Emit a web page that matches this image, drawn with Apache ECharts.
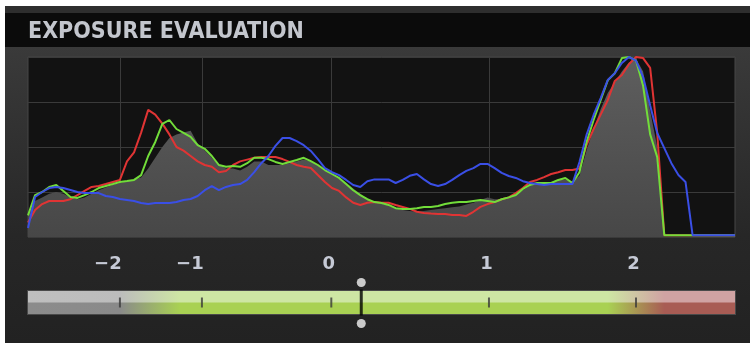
<!DOCTYPE html>
<html>
<head>
<meta charset="utf-8">
<script src="https://cdn.jsdelivr.net/npm/echarts@6/dist/echarts.min.js"></script>
<style>
  html, body { margin: 0; padding: 0; background: #fff; }
  #chart { width: 753px; height: 349px; }
</style>
</head>
<body>
<div id="chart"></div>
<script>
// histogram bins 0..100 across the plot, one value per bin
const red = [8, 15, 18.3, 20, 20, 20, 21, 23.3, 25.6, 27.8, 28.3, 29.4, 30.6, 31.7,
  42, 47, 58, 70.6, 68, 63, 57, 50, 48, 45, 42, 40, 39, 36,
  36.7, 40, 42, 43, 44, 44.4, 44.4, 44.4, 43.3, 41.7, 40, 39, 38.3, 34.4,
  30.6, 27.2, 25.6, 22, 19, 17.8, 19, 19.4, 19, 19, 17.8, 16.7, 15.6, 14,
  13.3, 13, 12.8, 12.8, 12.2, 12.2, 11.7, 14, 16.7, 18.3, 19.4, 21, 22, 24.4,
  27.2, 30.6, 31.7, 33.3, 35, 36, 37.2, 37.2, 38, 51, 60, 68, 76, 86.7,
  90, 96, 100, 99.4, 94, 57.8,
  1, 1, 1, 1, 1, 1, 1, 1, 1, 1, 1]

const green = [12, 23.3, 25, 27.8, 28.9, 25.6, 22.2, 21.7, 23.3, 25, 27.2, 28.3, 29.4, 30.6,
  31.1, 31.7, 34.4, 45, 52.8, 62.8, 65, 60, 57.8, 55.6, 51, 49, 45, 40,
  39, 39.4, 39, 41, 44, 44, 43.3, 41.7, 40.6, 41.7, 42.8, 44, 42.2, 40,
  37.2, 35, 32.8, 29.4, 26, 23.3, 21, 19.4, 18.9, 17.8, 16, 15.6, 15.6, 16,
  16.7, 16.7, 17.2, 18.3, 19, 19.4, 19.4, 20, 20.6, 20, 19.4, 21, 22, 23.3,
  26.7, 28.9, 30, 30, 30, 31.7, 32.8, 30, 36, 52.8, 65, 76, 87, 91,
  99.4, 100, 98, 84, 57, 44.4,
  1, 1, 1, 1, 1, 1, 1, 1, 1, 1, 1]

const blue = [5, 22.2, 25, 27.2, 27.8, 27.2, 26.1, 25, 24.4, 24.4, 24.4, 22.8, 22.2, 21.1,
  20.6, 20, 18.9, 18.3, 18.9, 18.9, 18.9, 19.4, 20.6, 21.1, 22.8, 26, 28.3, 26,
  27.8, 28.9, 29.4, 31.7, 36, 41, 45, 50.6, 55, 55, 53.3, 51, 47.8, 43.3,
  38.3, 36, 34.4, 31.7, 28.9, 27.8, 31, 32, 32, 32, 30, 31.7, 34, 35,
  32, 29.4, 28.3, 29.4, 31.7, 34.4, 36.7, 38.3, 40.6, 40.6, 38.3, 35.6, 33.9, 32.8,
  31, 30, 29.4, 28.9, 29.4, 29.4, 29.4, 29.4, 41.7, 56.7, 67.8, 77.2, 87.2, 91,
  96.7, 100, 98, 89, 73, 57.8, 49.4, 41, 34.4, 30.6,
  1, 1, 1, 1, 1, 1, 1]

const luma = [12, 20, 22, 24, 25, 24, 22, 21, 22, 24, 26, 27.5, 29, 30,
  31, 32, 33, 38, 44, 50, 55, 57, 58, 59, 52, 48, 44, 40,
  38, 38, 37, 39, 42, 42, 40, 40, 40, 41, 42, 43, 42, 40,
  37, 35, 33, 30, 27, 24, 21, 19.5, 18.5, 17.5, 16, 15,
  14.5, 14, 14.5, 15, 15.5, 16, 16.5, 17, 18, 19, 20.5, 22, 21, 21,
  22, 23.5, 26, 28.5, 29.5, 30, 30.5, 31.5, 32, 31, 34, 48, 60, 71,
  80, 86, 92, 97, 99, 92, 70, 50,
  0, 0, 0, 0, 0, 0, 0, 0, 0, 0, 0]

// EV stops and where they sit on the bin axis
const evTickLabels = ['−2', '−1', '0', '1', '2']
const evTickLevels = [13.0, 24.6, 42.9, 65.2, 86.0]
const sliderEV = 0.19

function evToLevel(ev) {
  const evs = [-2, -1, 0, 1, 2]
  for (let i = 0; i < evs.length - 1; i++) {
    if (ev <= evs[i + 1]) {
      const t = (ev - evs[i]) / (evs[i + 1] - evs[i])
      return evTickLevels[i] + t * (evTickLevels[i + 1] - evTickLevels[i])
    }
  }
  return evTickLevels[evTickLevels.length - 1]
}

function toPairs(arr) {
  return arr.map((v, i) => [i, v])
}

const chart = echarts.init(document.getElementById('chart'))
const sliderLevel = evToLevel(sliderEV)

function hGrad(stops) {
  return new echarts.graphic.LinearGradient(0, 0, 1, 0, stops)
}

const labelFont = { color: '#c6cad6', fontSize: 18, fontWeight: 'bold', fontFamily: 'DejaVu Sans' }

const option = {
  animation: false,
  backgroundColor: 'transparent',
  title: {
    text: 'EXPOSURE EVALUATION',
    left: 23,
    top: 16,
    textStyle: {
      color: '#c3c6cd',
      fontSize: 23,
      fontWeight: 'bold',
      fontFamily: 'DejaVu Sans Condensed'
    }
  },
  graphic: [
    { type: 'rect', z: -10, shape: { x: 5, y: 6, width: 745, height: 337 },
      style: { fill: new echarts.graphic.LinearGradient(0, 0, 0, 1, [
        { offset: 0, color: '#3e3e3e' },
        { offset: 0.68, color: '#272727' },
        { offset: 1, color: '#222222' }
      ]) } },
    { type: 'rect', z: -9, shape: { x: 5, y: 6, width: 745, height: 8 }, style: { fill: '#2e2e2e' } },
    { type: 'rect', z: -9, shape: { x: 5, y: 13, width: 745, height: 34 }, style: { fill: '#0b0b0b' } },
    // thin frame round the exposure scale
    { type: 'rect', z: -5, shape: { x: 27, y: 290, width: 709, height: 25 }, style: { fill: '#4a4a4a' } }
  ],
  grid: [
    { left: 28, right: 18, top: 57, height: 180, show: true,
      backgroundColor: '#121212', borderColor: '#474747', borderWidth: 1 },
    { left: 28, right: 18, top: 291, height: 23 }
  ],
  xAxis: [
    {
      type: 'value', gridIndex: 0, min: 0, max: 100,
      axisLine: { show: false },
      axisTick: { show: false, customValues: evTickLevels },
      splitLine: { show: true, lineStyle: { color: '#3a3a3a', width: 1 } },
      axisLabel: Object.assign({
        customValues: evTickLevels,
        margin: 18,
        formatter: v => {
          const t = evTickLabels[evTickLevels.indexOf(v)]
          return t.charAt(0) === '−' ? '{neg|' + t + '}' : '{pos|' + t + '}'
        },
        rich: {
          neg: Object.assign({ padding: [0, 24, 0, 0] }, labelFont),
          pos: Object.assign({ padding: [0, 5, 0, 0] }, labelFont)
        }
      }, labelFont)
    },
    { type: 'value', gridIndex: 1, min: 0, max: 100, show: false }
  ],
  yAxis: [
    {
      type: 'value', gridIndex: 0, min: 0, max: 100, interval: 25,
      axisLine: { show: false }, axisTick: { show: false }, axisLabel: { show: false },
      splitLine: { lineStyle: { color: '#3a3a3a', width: 1 } }
    },
    { type: 'value', gridIndex: 1, min: 0, max: 1, show: false }
  ],
  series: [
    {
      name: 'luminance', type: 'line', data: toPairs(luma), symbol: 'none',
      lineStyle: { width: 0 },
      areaStyle: {
        opacity: 1,
        color: new echarts.graphic.LinearGradient(0, 0, 0, 1, [
          { offset: 0, color: '#5e5e5e' },
          { offset: 1, color: '#474747' }
        ])
      },
      silent: true
    },
    { name: 'red', type: 'line', data: toPairs(red), symbol: 'none', lineStyle: { color: '#e03434', width: 2 } },
    { name: 'green', type: 'line', data: toPairs(green), symbol: 'none', lineStyle: { color: '#72dd3a', width: 2 } },
    { name: 'blue', type: 'line', data: toPairs(blue), symbol: 'none', lineStyle: { color: '#3a4fe6', width: 2 } },
    {
      name: 'scaleLight', type: 'line', xAxisIndex: 1, yAxisIndex: 1, symbol: 'none', silent: true,
      data: [[0, 1], [100, 1]], lineStyle: { width: 0 },
      areaStyle: { opacity: 1, color: hGrad([
        { offset: 0, color: '#bfbfbf' }, { offset: 0.13, color: '#bcbcbc' },
        { offset: 0.215, color: '#cee6a4' }, { offset: 0.82, color: '#cee6a4' },
        { offset: 0.9, color: '#d0a3a3' }, { offset: 1, color: '#d0a3a3' }
      ]) }
    },
    {
      name: 'scaleDark', type: 'line', xAxisIndex: 1, yAxisIndex: 1, symbol: 'none', silent: true,
      data: [[0, 0.5], [100, 0.5]], lineStyle: { width: 0 },
      areaStyle: { opacity: 1, color: hGrad([
        { offset: 0, color: '#8c8c8c' }, { offset: 0.13, color: '#8a8a8a' },
        { offset: 0.215, color: '#a9d153' }, { offset: 0.82, color: '#a9d153' },
        { offset: 0.9, color: '#a85c54' }, { offset: 1, color: '#a85c54' }
      ]) }
    },
    {
      name: 'evTicks', type: 'scatter', xAxisIndex: 1, yAxisIndex: 1, silent: true, z: 10,
      symbol: 'rect', symbolSize: [2, 10], itemStyle: { color: '#3a3a3a' },
      data: evTickLevels.map(l => [l, 0.5])
    },
    {
      name: 'slider', type: 'scatter', xAxisIndex: 1, yAxisIndex: 1, silent: true, z: 11, clip: false,
      symbol: 'rect', symbolSize: [3, 26], itemStyle: { color: '#000' },
      data: [[sliderLevel, 0.5]]
    },
    {
      name: 'sliderKnobs', type: 'scatter', xAxisIndex: 1, yAxisIndex: 1, silent: true, z: 11, clip: false,
      symbol: 'circle', symbolSize: 9, itemStyle: { color: '#f4f4f4' },
      data: [
        { value: [sliderLevel, 0.5], symbolOffset: [0, -20] },
        { value: [sliderLevel, 0.5], symbolOffset: [0, 21] }
      ]
    }
  ]
}

chart.setOption(option)
</script>
</body>
</html>
